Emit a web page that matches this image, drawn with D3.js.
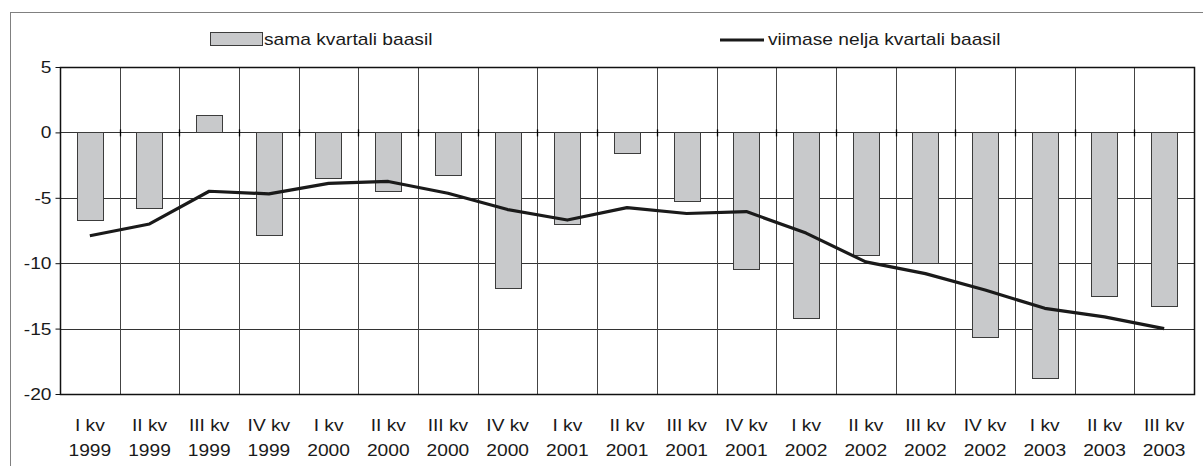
<!DOCTYPE html>
<html>
<head>
<meta charset="utf-8">
<script src="https://cdn.jsdelivr.net/npm/d3@7"></script>
<style>
body { margin: 0; background: #fff; }
svg { display: block; font-family: Arial, "Liberation Sans", sans-serif; }
</style>
</head>
<body>
<svg id="chart" width="1203" height="466"></svg>
<script>
const quarters = ["I kv","II kv","III kv","IV kv","I kv","II kv","III kv","IV kv","I kv","II kv","III kv","IV kv","I kv","II kv","III kv","IV kv","I kv","II kv","III kv"];
const years = ["1999","1999","1999","1999","2000","2000","2000","2000","2001","2001","2001","2001","2002","2002","2002","2002","2003","2003","2003"];
const samaKvartali = [-6.7,-5.8,1.3,-7.9,-3.5,-4.5,-3.3,-11.9,-7.0,-1.6,-5.3,-10.5,-14.2,-9.4,-10.0,-15.7,-18.8,-12.5,-13.3];
const viimaseNelja = [-7.9,-7.0,-4.5,-4.7,-3.9,-3.75,-4.65,-5.9,-6.7,-5.75,-6.2,-6.05,-7.7,-9.9,-10.8,-12.05,-13.45,-14.1,-15.0];
const yTicks = [5,0,-5,-10,-15,-20];
const legendLabels = ["sama kvartali baasil","viimase nelja kvartali baasil"];

(function(){
const svg = d3.select("#chart");
const pL = 60, pR = 1194, pT = 67, pB = 394;
const FS = 16, SX = 1.2;
const keys = quarters.map((q,i)=>i);

function addText(g, tx, ty, str, anchor){
  return g.append("text").attr("transform",`translate(${tx},${ty}) scale(${SX},1)`)
    .attr("text-anchor",anchor||"start").attr("font-size",FS).attr("fill","#1a1a1a").text(str);
}

svg.append("rect").attr("x",10.5).attr("y",12.5).attr("width",1300).attr("height",600)
  .attr("fill","none").attr("stroke","#808080").attr("stroke-width",1);

const x = d3.scaleBand().domain(keys).range([pL,pR]).paddingInner(0).paddingOuter(0);
const y = d3.scaleLinear().domain([-20,5]).range([pB,pT]);

svg.append("g").selectAll("line").data(yTicks).join("line")
  .attr("x1",pL).attr("x2",pR)
  .attr("y1",d=>Math.round(y(d))+0.5).attr("y2",d=>Math.round(y(d))+0.5)
  .attr("stroke","#333").attr("stroke-width",1);

svg.append("g").selectAll("line").data(keys.slice(1)).join("line")
  .attr("x1",d=>Math.round(x(d))+0.5).attr("x2",d=>Math.round(x(d))+0.5)
  .attr("y1",pT).attr("y2",pB)
  .attr("stroke","#444").attr("stroke-width",1);

const bw = x.bandwidth()*0.44;
svg.append("g").selectAll("rect").data(samaKvartali).join("rect")
  .attr("x",(d,i)=>Math.round(x(i)+x.bandwidth()/2-bw/2)+0.5)
  .attr("width",Math.round(bw))
  .attr("y",d=>Math.round(y(Math.max(0,d)))+0.5)
  .attr("height",d=>Math.round(Math.abs(y(d)-y(0))))
  .attr("fill","#c8c9cb").attr("stroke","#3c3c3c").attr("stroke-width",1);

svg.append("rect").attr("x",pL+0.5).attr("y",pT+0.5).attr("width",pR-pL).attr("height",pB-pT)
  .attr("fill","none").attr("stroke","#111").attr("stroke-width",1.5);

const yAxis = d3.axisLeft(y).tickValues(yTicks).tickSize(5).tickPadding(4).tickFormat(d3.format("d"));
const yg = svg.append("g").attr("transform",`translate(${pL+0.5},0)`).call(yAxis);
yg.select(".domain").remove();
yg.selectAll(".tick line").attr("stroke","#111");
yg.selectAll(".tick text").each(function(d){
  const t = d3.select(this);
  const tx = +t.attr("x");
  t.attr("x",0).attr("dy",null).attr("y",null)
   .attr("transform",`translate(${tx},${5.5}) scale(${SX},1)`)
   .attr("font-size",FS).attr("fill","#1a1a1a")
   .style("font-family","Arial, 'Liberation Sans', sans-serif")
   .text(d<0 ? "-"+Math.abs(d) : String(d));
});

svg.append("g").selectAll("line").data(keys.slice(1)).join("line")
  .attr("x1",d=>Math.round(x(d))+0.5).attr("x2",d=>Math.round(x(d))+0.5)
  .attr("y1",y(0)-3).attr("y2",y(0)+4)
  .attr("stroke","#000").attr("stroke-width",1.3);

const xg = svg.append("g");
keys.forEach(k=>{
  const cx = x(k)+x.bandwidth()/2;
  addText(xg, cx, 431, quarters[k], "middle");
  addText(xg, cx, 456, years[k], "middle");
});

const line = d3.line().x((d,i)=>x(i)+x.bandwidth()/2).y(d=>y(d));
svg.append("path").datum(viimaseNelja).attr("d",line)
  .attr("fill","none").attr("stroke","#1a1a1a").attr("stroke-width",3.2).attr("stroke-linejoin","round");

const lg = svg.append("g");
lg.append("rect").attr("x",210.5).attr("y",32.5).attr("width",52).attr("height",13)
  .attr("fill","#c8c9cb").attr("stroke","#3c3c3c");
addText(lg, 264, 45, legendLabels[0], "start");
lg.append("line").attr("x1",720).attr("x2",764).attr("y1",40).attr("y2",40)
  .attr("stroke","#1a1a1a").attr("stroke-width",3.2);
addText(lg, 768, 45, legendLabels[1], "start");
})();
</script>
</body>
</html>
